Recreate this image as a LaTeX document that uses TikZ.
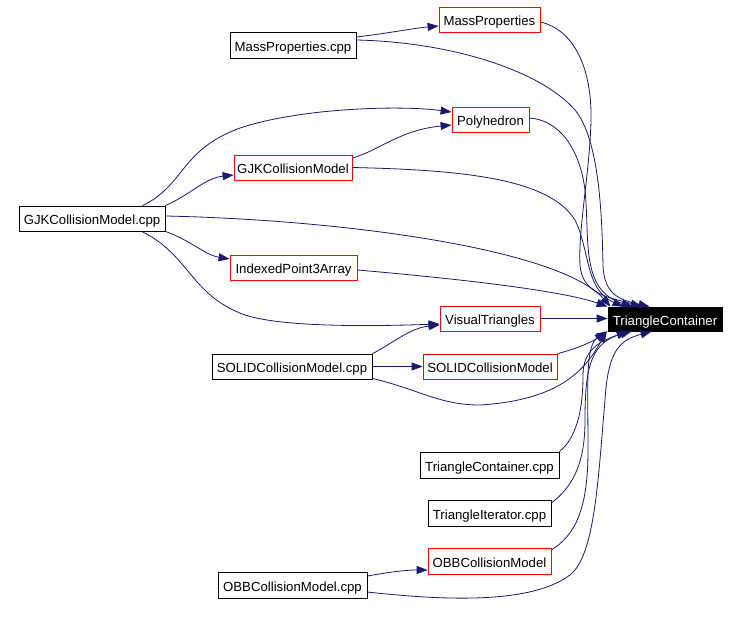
\documentclass[tikz,border=0pt]{standalone}
\usepackage{fontspec}
\setmainfont{Liberation Sans}
\usetikzlibrary{arrows.meta,calc}
\definecolor{edgecol}{RGB}{25,25,112}
\begin{document}
\begin{tikzpicture}[x=1pt,y=-1pt,
  box/.style={draw=black,line width=0.8pt,inner sep=0pt,fill=white,text height=12.5pt,text depth=0pt,font=\fontsize{13.2}{15}\selectfont},
  redbox/.style={box,draw=red},
  mainbox/.style={box,fill=black,text=white},
  dep/.style={draw=edgecol,line width=0.8pt,-{Triangle[length=11pt,width=8pt,fill=edgecol]}}]
\fill[white] (0,0) rectangle (739,630);
\useasboundingbox (0,0) rectangle (739,630);

% nodes
\node[redbox,minimum width=101pt,minimum height=25pt] (mp) at (489.5,19.5) {MassProperties};
\node[box,minimum width=126pt,minimum height=26pt] (mpcpp) at (293,45) {MassProperties.cpp};
\node[redbox,minimum width=77pt,minimum height=25pt] (poly) at (490.5,119.5) {Polyhedron};
\node[redbox,minimum width=118pt,minimum height=25pt] (gjk) at (293,167.5) {GJKCollisionModel};
\node[box,minimum width=146pt,minimum height=25pt] (gjkcpp) at (92,218.5) {GJKCollisionModel.cpp};
\node[redbox,minimum width=127pt,minimum height=25pt] (ip3a) at (293.5,267.5) {IndexedPoint3Array};
\node[redbox,minimum width=100pt,minimum height=25pt] (vt) at (490,318.5) {VisualTriangles};
\node[mainbox,minimum width=114pt,minimum height=24pt] (tc) at (665,319) {TriangleContainer};
\node[box,minimum width=160pt,minimum height=25pt] (solidcpp) at (292,366.5) {SOLIDCollisionModel.cpp};
\node[redbox,minimum width=134pt,minimum height=25pt] (solid) at (490,366.5) {SOLIDCollisionModel};
\node[box,minimum width=139pt,minimum height=26pt] (tccpp) at (489.5,465) {TriangleContainer.cpp};
\node[box,minimum width=123pt,minimum height=26pt] (ticpp) at (489.5,513) {TriangleIterator.cpp};
\node[redbox,minimum width=123pt,minimum height=26pt] (obb) at (489.5,561) {OBBCollisionModel};
\node[box,minimum width=149pt,minimum height=26pt] (obbcpp) at (292.5,585) {OBBCollisionModel.cpp};

% edges into TriangleContainer from above
\draw[dep] ($(mpcpp.east)+(0,-5)$) .. controls (450,42) and (540,70) .. (575,110)
  .. controls (600,140) and (602,220) .. (603,265)
  .. controls (604,295) and (620,300) .. ($(tc.north west)+(42,0)$);
\draw[dep] ($(mp.east)+(0,2.5)$) .. controls (575,30) and (592,70) .. (591,120)
  .. controls (590,170) and (578,230) .. (580,265)
  .. controls (582,295) and (612,298) .. ($(tc.north west)+(34,0)$);
\draw[dep] ($(poly.east)+(0,-1.5)$) .. controls (560,120) and (580,150) .. (585,190)
  .. controls (590,240) and (580,290) .. ($(tc.north west)+(25,0)$);
\draw[dep] (gjk.east) .. controls (470,170) and (550,180) .. (575,220)
  .. controls (590,250) and (585,290) .. ($(tc.north west)+(16,0)$);
\draw[dep] ($(gjkcpp.east)+(0,-2.5)$) .. controls (350,220) and (560,250) .. ($(tc.north west)+(3,0)$);
\draw[dep] ($(ip3a.east)+(0,2.5)$) .. controls (450,278) and (560,290) .. (tc.north west);
\draw[dep] (vt.east) -- (vt.east -| tc.west);

% left part
\draw[dep] ($(mpcpp.east)+(0,-8)$) .. controls (390,33) and (415,28) .. ($(mp.west)+(0,6.5)$);
\draw[dep] ($(gjkcpp.north west)+(124,0)$) .. controls (185,185) and (180,150) .. (240,128)
  .. controls (300,108) and (400,105) .. ($(poly.west)+(0,-7.5)$);
\draw[dep] (gjkcpp.north east) .. controls (190,195) and (205,178) .. ($(gjk.west)+(0,7.5)$);
\draw[dep] ($(gjk.east)+(0,-9.5)$) .. controls (380,150) and (400,130) .. ($(poly.west)+(0,5.5)$);
\draw[dep] (gjkcpp.south east) .. controls (190,240) and (205,255) .. ($(ip3a.west)+(0,-8.5)$);
\draw[dep] ($(gjkcpp.south west)+(123,0)$) .. controls (190,255) and (190,295) .. (245,315)
  .. controls (285,328) and (380,326) .. ($(vt.west)+(0,5.5)$);
\draw[dep] (solidcpp.north east) .. controls (395,342) and (410,328) .. ($(vt.west)+(0,6.5)$);
\draw[dep] (solidcpp.east) -- (solid.west);

% edges into TriangleContainer from below
\draw[dep] ($(solidcpp.south east)+(0,-1)$) .. controls (420,390) and (440,405) .. (480,405)
  .. controls (560,400) and (585,370) .. ($(tc.south west)+(-1,0)$);
\draw[dep] (solid.north east) .. controls (580,348) and (595,340) .. ($(tc.south west)+(-2,0)$);
\draw[dep] (tccpp.north east) .. controls (580,435) and (583,400) .. (583,375)
  .. controls (583,350) and (600,340) .. ($(tc.south west)+(24,0)$);
\draw[dep] ($(ticpp.east)+(0,-10)$) .. controls (575,485) and (585,460) .. (585,420)
  .. controls (585,370) and (590,345) .. ($(tc.south west)+(20,0)$);
\draw[dep] ($(obb.east)+(0,-11)$) .. controls (575,535) and (588,510) .. (588,450)
  .. controls (588,380) and (585,345) .. (tc.south west);
\draw[dep] ($(obbcpp.east)+(0,-9)$) .. controls (390,572) and (405,570) .. ($(obb.west)+(0,9)$);
\draw[dep] ($(obbcpp.east)+(0,7)$) .. controls (440,600) and (530,605) .. (570,575)
  .. controls (595,555) and (598,480) .. (605,400)
  .. controls (608,350) and (620,340) .. ($(tc.south west)+(44,0)$);
\end{tikzpicture}
\end{document}
